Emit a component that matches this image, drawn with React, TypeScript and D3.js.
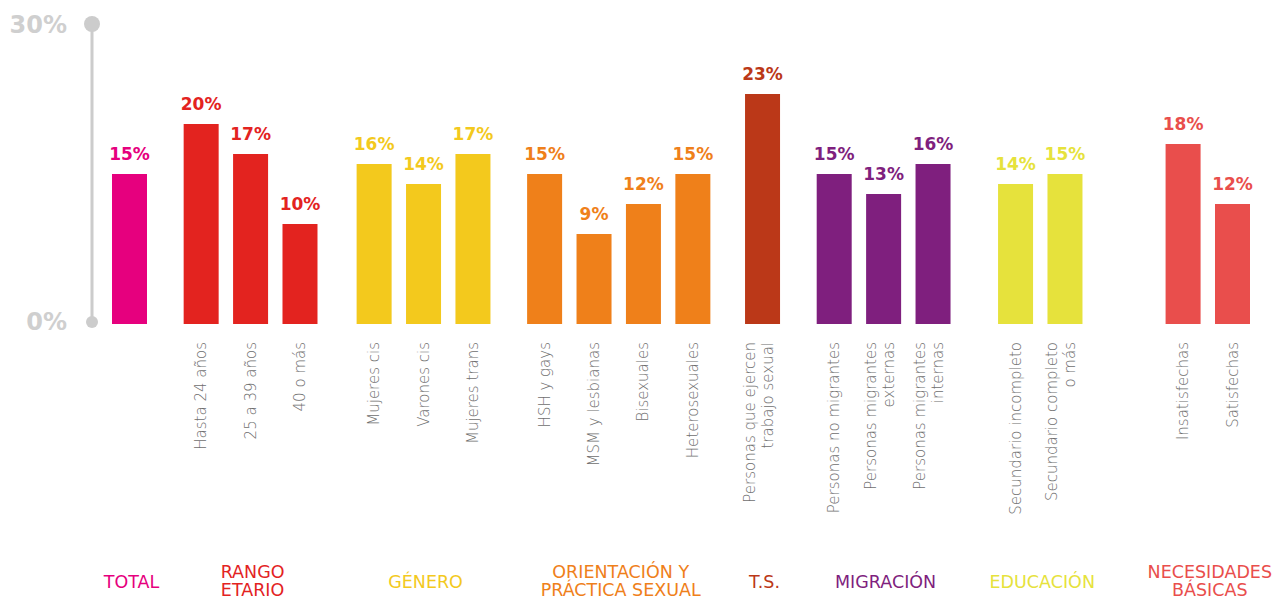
import React from 'react';
import * as d3 from 'd3';

// group titles (\n = line break) and their colours
const groupNames = [
  'TOTAL',
  'RANGO\nETARIO',
  'GÉNERO',
  'ORIENTACIÓN Y\nPRÁCTICA SEXUAL',
  'T.S.',
  'MIGRACIÓN',
  'EDUCACIÓN',
  'NECESIDADES\nBÁSICAS',
];
const groupColors = ['#e6007e', '#e3231f', '#f3c91d', '#ef801a', '#bb3818', '#7f1f7e', '#e6e23c', '#e94e4c'];

// one entry per bar
const categories = [
  '',
  'Hasta 24 años', '25 a 39 años', '40 o más',
  'Mujeres cis', 'Varones cis', 'Mujeres trans',
  'HSH y gays', 'MSM y lesbianas', 'Bisexuales', 'Heterosexuales',
  'Personas que ejercen\ntrabajo sexual',
  'Personas no migrantes', 'Personas migrantes\nexternas', 'Personas migrantes\ninternas',
  'Secundario incompleto', 'Secundario completo\no más',
  'Insatisfechas', 'Satisfechas',
];
const groupOf = [0, 1, 1, 1, 2, 2, 2, 3, 3, 3, 3, 4, 5, 5, 5, 6, 6, 7, 7];
const values = [15, 20, 17, 10, 16, 14, 17, 15, 9, 12, 15, 23, 15, 13, 16, 14, 15, 18, 12];

const yTicks = [0, 30];

// extra space before each group, in bar slots
const groupGap = [0, 0.45, 0.5, 0.45, 0.41, 0.45, 0.67, 1.39];

const width = 1281;
const height = 599;
const barW = 35;
const FONT = "'DejaVu Sans', sans-serif";

const App = () => {
  // slot position of every bar
  const slots: number[] = [];
  let offset = 0;
  groupOf.forEach((g, i) => {
    if (i > 0 && g !== groupOf[i - 1]) offset += groupGap[g];
    slots.push(i + offset);
  });

  const x = d3.scaleLinear().domain([0, d3.max(slots) as number]).range([112, 1215]);
  const y = d3.scaleLinear().domain([0, 30]).range([324, 24]);
  const axisX = 92;

  const groupCenters = groupNames.map((_, g) => {
    const idx = groupOf.map((d, i) => (d === g ? i : -1)).filter(i => i >= 0);
    const xs = idx.map(i => x(slots[i]) + barW / 2);
    return ((d3.min(xs) as number) + (d3.max(xs) as number)) / 2 + 2;
  });

  return (
    <svg width={width} height={height}
      style={{ position: 'absolute', left: 0, top: 0, display: 'block', background: '#fff' }}>
      {/* y axis */}
      <line x1={axisX} x2={axisX} y1={y(30)} y2={y(0) - 2} stroke="#cccccc" strokeWidth={3} />
      <circle cx={axisX} cy={y(30)} r={8} fill="#cccccc" />
      <circle cx={axisX} cy={y(0) - 2} r={6} fill="#cccccc" />
      {yTicks.map(t => (
        <text key={t} x={67} y={y(t) + (t === 0 ? 6 : 9)} textAnchor="end"
          fontFamily={FONT} fontWeight="bold" fontSize={24} fill="#cfcfcf">
          {t}%
        </text>
      ))}

      {/* bars + value labels */}
      {values.map((v, i) => {
        const color = groupColors[groupOf[i]];
        const bx = x(slots[i]);
        return (
          <g key={i}>
            <rect x={bx} y={y(v)} width={barW} height={y(0) - y(v)} fill={color} />
            <text x={bx + barW / 2} y={y(v) - 14} textAnchor="middle"
              fontFamily={FONT} fontWeight="bold" fontSize={17} fill={color}>
              {v}%
            </text>
          </g>
        );
      })}

      {/* rotated category labels */}
      {categories.map((c, i) => {
        if (!c) return null;
        const lines = c.split('\n');
        const cx = x(slots[i]) + barW / 2;
        const base = lines.length === 1 ? [cx + 5] : [cx - 8, cx + 10];
        return lines.map((ln, j) => (
          <text key={`${i}-${j}`} transform={`translate(${base[j]},342) rotate(-90)`}
            textAnchor="end" fontFamily={FONT} fontWeight={200} fontSize={15} fill="#6e6e6e">
            {ln}
          </text>
        ));
      })}

      {/* group titles */}
      {groupNames.map((g, gi) => {
        const lines = g.split('\n');
        const ys = lines.length === 1 ? [588] : [578, 596];
        return lines.map((ln, j) => (
          <text key={`${gi}-${j}`} x={groupCenters[gi]} y={ys[j]} textAnchor="middle"
            fontFamily={FONT} fontSize={17.5} fill={groupColors[gi]}>
            {ln}
          </text>
        ));
      })}
    </svg>
  );
};

export default App;
